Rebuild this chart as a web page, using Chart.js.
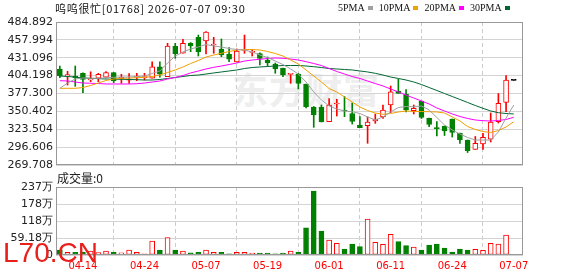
<!DOCTYPE html>
<html>
<head>
<meta charset="utf-8">
<script src="https://cdn.jsdelivr.net/npm/chart.js@4.4.1/dist/chart.umd.min.js"></script>
<style>
  body { margin: 0; background: #fff; width: 578px; height: 276px; overflow: hidden; position: relative; font-family: "Noto Sans CJK SC", sans-serif; }
  canvas { position: absolute; left: 0; }
  #price { top: 0; }
  #vol { top: 170px; }
  .t { position: absolute; white-space: nowrap; }
  #mark { left: 232px; top: 62px; font-size: 36px; font-weight: bold; color: #eeeeee; letter-spacing: 1px; }
  #title { left: 55px; top: 0px; font-size: 11px; line-height: 16px; color: #111; letter-spacing: 0.7px; }
  #legend { left: 338px; top: 0px; font: 10px "Liberation Serif", serif; line-height: 16px; color: #111; }
  #legend span.sq { display: inline-block; width: 5px; height: 4px; margin: 0 6px 1px 3px; }
  #volTitle { left: 57px; top: 170px; font-size: 12px; line-height: 16px; color: #222; }
  #site { left: 3px; top: 237px; font: 28px "Liberation Sans", sans-serif; color: #e8201c; }
</style>
</head>
<body>
<div class="t" id="mark">东方财富</div>
<canvas id="price" width="578" height="178"></canvas>
<canvas id="vol" width="578" height="106"></canvas>
<div class="t" id="title">呜呜很忙[01768] 2026-07-07 09:30</div>
<div class="t" id="legend"></div>
<div class="t" id="volTitle">成交量:0</div>
<div class="t" id="site">L70.CN</div>
<script>
// trading days shown
var days = ['04-09','04-10','04-13','04-14','04-15','04-16','04-17','04-20','04-21','04-22',
            '04-23','04-24','04-27','04-28','04-29','04-30','05-04','05-05','05-06','05-07',
            '05-08','05-11','05-12','05-13','05-14','05-15','05-18','05-19','05-20','05-21',
            '05-22','05-26','05-27','05-28','05-29','06-01','06-02','06-03','06-04','06-05',
            '06-08','06-09','06-10','06-11','06-12','06-15','06-16','06-17','06-18','06-22',
            '06-23','06-24','06-25','06-26','06-29','06-30','07-02','07-03','07-06','07-07'];
var dateTicks = ['04-14','04-24','05-07','05-19','06-01','06-11','06-24','07-07'];

// daily prices
var open  = [414.2,403.6,403.0,407.7,397.6,400.2,401.7,408.6,399.6,397.2,
             401.7,401.1,400.2,417.6,402.6,448.3,437.8,452.8,461.9,456.3,
             450.3,444.3,436.3,424.7,442.0,439.3,437.5,427.7,421.7,415.2,
             406.0,406.6,391.6,357.0,357.0,334.9,361.5,352.5,347.2,329.9,
             328.8,335.9,342.0,360.0,381.1,376.5,351.4,366.0,340.0,325.4,
             328.4,338.9,317.4,307.3,293.3,301.3,308.4,334.9,363.7,397.0];
var high  = [418.7,410.7,418.7,408.4,410.0,407.7,410.1,409.0,406.2,407.1,
             407.7,407.7,425.1,425.1,452.8,452.8,458.8,454.0,465.3,470.5,
             461.9,459.3,446.5,444.3,465.3,443.8,438.5,432.2,423.2,415.7,
             406.6,407.4,391.6,357.7,360.0,369.8,368.6,372.8,363.0,342.4,
             342.0,346.4,360.0,388.6,398.7,383.3,360.0,366.0,340.4,334.9,
             328.4,338.9,317.9,307.3,312.6,317.4,348.0,377.3,404.4,397.0];
var low   = [401.1,390.1,388.1,378.5,395.0,395.0,400.6,393.6,392.6,392.6,
             396.6,397.6,400.2,401.7,402.6,430.3,437.8,440.2,433.7,436.7,
             437.8,432.7,425.1,424.7,437.8,433.7,420.2,418.7,407.7,402.6,
             392.6,384.1,355.5,326.4,334.4,334.9,343.4,342.4,331.4,325.8,
             302.4,332.4,339.7,348.4,377.3,349.5,346.5,339.7,327.4,313.4,
             314.1,311.8,302.0,288.5,293.3,293.3,304.3,332.9,349.9,397.0];
var close = [404.1,405.6,401.0,398.6,399.6,406.2,408.6,396.6,401.7,399.1,
             403.6,402.6,417.6,406.2,448.8,437.2,452.8,448.8,440.2,469.8,
             451.8,435.2,428.8,441.3,443.5,440.5,430.0,423.2,414.2,405.1,
             406.6,392.3,357.4,344.9,334.4,360.0,363.0,351.0,335.2,325.8,
             334.4,338.9,352.5,380.0,377.6,352.5,355.0,341.2,330.7,324.4,
             320.9,318.6,307.8,291.2,302.4,311.4,334.4,362.6,397.6,397.0];

// moving averages
var ma5  = [385.1,393.1,399.1,400.6,400.2,400.2,401.1,401.7,402.1,402.1,
            402.9,403.6,407.4,411.2,423.2,433.7,439.8,444.3,447.3,451.0,
            448.8,447.3,445.0,443.5,442.8,439.8,435.2,431.5,426.2,420.9,
            414.2,406.6,394.6,379.6,367.5,358.5,354.0,351.0,349.9,347.2,
            342.0,337.4,342.0,349.5,356.2,357.7,357.4,358.5,352.5,341.2,
            329.9,322.4,316.4,311.1,307.3,307.3,307.3,319.4,340.4,360.0];
var ma10 = [385.1,385.1,385.1,386.3,389.3,393.1,396.9,399.1,400.2,400.6,
            401.1,401.7,402.9,405.1,408.9,412.7,417.2,422.4,427.0,432.2,
            435.2,437.8,440.5,442.8,443.5,443.5,442.8,440.5,437.5,433.7,
            427.7,421.7,412.7,403.6,394.6,384.8,379.6,372.0,364.5,357.0,
            351.7,347.9,346.0,347.2,349.5,351.0,350.2,350.2,349.9,349.5,
            347.9,342.0,336.0,327.6,323.1,320.1,318.6,321.6,326.9,334.9];
var ma20 = [396.6,396.1,394.6,393.1,392.7,392.3,391.6,391.6,391.6,391.6,
            392.0,393.1,394.6,396.1,399.1,401.4,404.4,408.2,411.2,414.2,
            416.7,418.7,420.9,423.2,426.2,427.7,428.8,430.0,430.7,430.3,
            429.2,427.7,425.2,422.4,419.4,414.9,410.4,406.6,402.9,399.9,
            396.1,392.3,388.6,384.1,379.6,375.0,370.5,366.0,361.5,355.5,
            351.0,346.5,342.7,339.7,337.4,336.4,335.9,336.7,338.2,341.5];
var ma30 = [403.6,402.9,402.1,400.6,400.2,399.6,399.1,398.7,398.7,398.4,
            398.1,397.6,397.6,398.4,399.9,401.4,402.9,404.4,405.1,406.6,
            408.2,409.7,411.2,412.7,414.9,416.4,417.2,417.9,418.7,419.4,
            419.4,419.4,418.7,417.6,416.4,414.9,414.2,413.4,412.7,411.2,
            409.7,407.7,405.1,402.1,399.9,397.6,394.6,390.8,386.3,381.8,
            377.3,372.8,368.3,363.8,359.2,355.0,351.0,348.4,347.2,346.5];

// volume, in 万
var volume = [17.4,9.3,9.3,10,13.9,8,13.9,9.3,7.5,17.4,
              9.3,4.5,48.7,17.4,60.3,17.4,13.9,7.5,9.3,17.4,
              9.3,9.3,4.5,9.3,9.3,7,7,7,4.5,7,
              13.9,9.3,95,222.8,83.5,52.2,40.6,20.9,38.3,29,
              125.3,44.1,37.1,71.9,46.4,32.5,27.8,17.4,34.8,38.3,
              24.4,10.4,20.9,17.4,19.7,16.2,40.6,38.3,69.6,0];

var priceTicks = [269.708,296.606,323.504,350.402,377.300,404.198,431.096,457.994,484.892];
var volTicks = [0,59.18,118.36,177.54,236.72];
var volLabels = ['0','59.18万','118万','178万','237万'];

var maNames = ['5PMA','10PMA','20PMA','30PMA'];
var maColors = ['#a0a0a0','#f0a000','#ff00ff','#006633'];
var maSeries = [ma5, ma10, ma20, ma30];

var UP = '#ff0000', DOWN = '#008000';

// legend
var lg = document.getElementById('legend');
maNames.forEach(function (n, i) {
    lg.innerHTML += n + '<span class="sq" style="background:' + maColors[i] + '"></span>';
});

var tickIdx = dateTicks.map(function (d) { return days.indexOf(d); });
var dir = close.map(function (c, i) { return c > open[i] ? 1 : (c < open[i] ? -1 : 0); });
var edge = dir.map(function (d) { return d > 0 ? UP : (d < 0 ? DOWN : '#000'); });
var fill = dir.map(function (d) { return d > 0 ? '#fff' : (d < 0 ? DOWN : '#000'); });

// draws the grey frame round the plot
var frame = {
    id: 'frame',
    afterDraw: function (chart) {
        var a = chart.chartArea, c = chart.ctx;
        c.save();
        c.strokeStyle = '#999';
        c.lineWidth = 1;
        c.strokeRect(Math.round(a.left) + 0.5, Math.round(a.top) + 0.5,
                     Math.round(a.right - a.left) - 1, Math.round(a.bottom - a.top) - 1);
        c.restore();
    }
};

function xScale(showLabels) {
    return {
        type: 'linear', min: -0.5, max: 60.2, offset: false,
        afterBuildTicks: function (s) { s.ticks = tickIdx.map(function (v) { return { value: v }; }); },
        afterFit: function (s) { s.height = showLabels ? 21 : 0; },
        grid: { color: '#cccccc', drawTicks: false },
        border: { display: false, dash: [4, 3] },
        ticks: {
            display: showLabels, autoSkip: false, maxRotation: 0, padding: 5,
            color: '#ff0000', font: { family: 'DejaVu Sans', size: 10 },
            callback: function (v) { return days[v]; }
        }
    };
}

var xy = function (arr) { return arr.map(function (v, i) { return { x: i, y: v }; }); };

var lineSets = maSeries.map(function (s, i) {
    return {
        type: 'line', label: maNames[i], data: xy(s),
        borderColor: maColors[i], borderWidth: 1, pointRadius: 0, tension: 0
    };
});

new Chart(document.getElementById('price').getContext('2d'), {
    type: 'bar',
    data: {
        datasets: lineSets.concat([
            {
                label: 'body', grouped: false, barThickness: 5, minBarLength: 1,
                data: open.map(function (o, i) { return { x: i, y: [o, close[i]] }; }),
                backgroundColor: fill, borderColor: edge, borderWidth: 1, borderSkipped: false
            },
            {
                label: 'wick', grouped: false, barThickness: 1,
                data: low.map(function (l, i) { return { x: i, y: [l, high[i]] }; }),
                backgroundColor: edge, borderWidth: 0
            }
        ])
    },
    options: {
        responsive: false, animation: false, devicePixelRatio: 1,
        layout: { padding: { left: 0, right: 55, top: 22, bottom: 13 }, autoPadding: false },
        plugins: { legend: { display: false }, tooltip: { enabled: false } },
        scales: {
            x: xScale(false),
            y: {
                min: priceTicks[0], max: priceTicks[priceTicks.length - 1],
                afterBuildTicks: function (s) { s.ticks = priceTicks.map(function (v) { return { value: v }; }); },
                afterFit: function (s) { s.width = 56; },
                grid: { color: '#d4d4d4', drawTicks: false },
                border: { display: false },
                ticks: {
                    padding: 3, color: '#222', font: { family: 'DejaVu Sans', size: 11 },
                    callback: function (v) { return v.toFixed(3); }
                }
            }
        }
    },
    plugins: [frame]
});

new Chart(document.getElementById('vol').getContext('2d'), {
    type: 'bar',
    data: {
        datasets: [{
            label: 'volume', grouped: false, barThickness: 5,
            data: xy(volume),
            backgroundColor: fill, borderColor: edge, borderWidth: 1, borderSkipped: false
        }]
    },
    options: {
        responsive: false, animation: false, devicePixelRatio: 1,
        layout: { padding: { left: 0, right: 55, top: 17, bottom: 0 }, autoPadding: false },
        plugins: { legend: { display: false }, tooltip: { enabled: false } },
        scales: {
            x: xScale(true),
            y: {
                min: 0, max: volTicks[volTicks.length - 1],
                afterBuildTicks: function (s) { s.ticks = volTicks.map(function (v) { return { value: v }; }); },
                afterFit: function (s) { s.width = 56; },
                grid: { color: '#d4d4d4', drawTicks: false },
                border: { display: false },
                ticks: {
                    padding: 3, color: '#222', font: { family: 'DejaVu Sans', size: 11 },
                    callback: function (v, i) { return volLabels[i]; }
                }
            }
        }
    },
    plugins: [frame]
});
</script>
</body>
</html>
